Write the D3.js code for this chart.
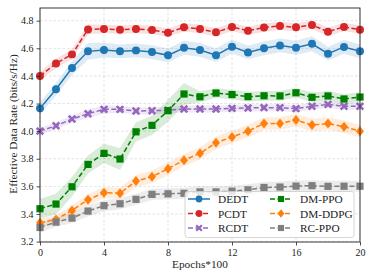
<!DOCTYPE html>
<html><head><meta charset="utf-8">
<script src="https://cdn.jsdelivr.net/npm/d3@7"></script>
<style>body{margin:0;background:#fff}svg{display:block}</style>
</head><body>
<svg id="c" width="374" height="279"></svg>
<script>
const epochs = d3.range(0, 21);
const dedt = [4.165,4.303,4.457,4.578,4.588,4.578,4.585,4.573,4.549,4.604,4.588,4.550,4.612,4.570,4.600,4.621,4.604,4.633,4.561,4.610,4.578];
const pcdt = [4.400,4.490,4.556,4.737,4.740,4.735,4.740,4.733,4.713,4.752,4.740,4.716,4.755,4.727,4.750,4.762,4.752,4.769,4.720,4.755,4.735];
const rcdt = [4.000,4.039,4.088,4.126,4.158,4.158,4.146,4.148,4.152,4.160,4.160,4.160,4.165,4.168,4.170,4.170,4.163,4.180,4.194,4.180,4.180];
const dmppo = [3.438,3.472,3.597,3.759,3.839,3.798,3.995,4.042,4.148,4.269,4.249,4.276,4.265,4.250,4.256,4.255,4.278,4.245,4.255,4.233,4.247];
const dmddpg = [3.336,3.360,3.426,3.503,3.554,3.550,3.638,3.670,3.728,3.790,3.839,3.916,3.957,4.000,4.056,4.056,4.080,4.044,4.055,4.032,4.000];
const rcppo = [3.302,3.341,3.370,3.421,3.460,3.474,3.506,3.542,3.546,3.550,3.560,3.560,3.565,3.575,3.592,3.595,3.602,3.605,3.600,3.601,3.601];
const sdDedt = [0.045,0.045,0.05,0.06,0.055,0.05,0.05,0.05,0.05,0.05,0.05,0.05,0.05,0.05,0.05,0.05,0.05,0.055,0.05,0.05,0.05];
const sdPcdt = [0.03,0.035,0.035,0.035,0.03,0.03,0.03,0.03,0.03,0.03,0.03,0.03,0.03,0.03,0.03,0.03,0.03,0.03,0.03,0.03,0.03];
const sdRcdt = [0.025,0.025,0.025,0.03,0.03,0.025,0.025,0.025,0.025,0.025,0.025,0.025,0.025,0.025,0.025,0.025,0.025,0.025,0.025,0.025,0.025];
const sdDmppo = [0.07,0.075,0.07,0.065,0.07,0.08,0.07,0.07,0.08,0.08,0.04,0.035,0.035,0.035,0.035,0.035,0.035,0.035,0.035,0.035,0.035];
const sdDmddpg = [0.03,0.03,0.035,0.04,0.04,0.04,0.045,0.045,0.045,0.045,0.045,0.045,0.045,0.045,0.045,0.045,0.045,0.045,0.045,0.045,0.045];
const sdRcppo = [0.035,0.035,0.035,0.04,0.04,0.04,0.04,0.04,0.04,0.04,0.04,0.04,0.04,0.04,0.04,0.04,0.04,0.04,0.04,0.04,0.04];
const xTicks = [0,4,8,12,16,20];
const yTicks = [3.2,3.4,3.6,3.8,4.0,4.2,4.4,4.6,4.8];

const series = [
  {name:"DEDT", v:dedt, sd:sdDedt, color:"#1f77b4", dash:null, sym:"circle"},
  {name:"PCDT", v:pcdt, sd:sdPcdt, color:"#d62728", dash:"5,2.5", sym:"circle"},
  {name:"RCDT", v:rcdt, sd:sdRcdt, color:"#9467bd", dash:"5,2.5", sym:"x"},
  {name:"DM-PPO", v:dmppo, sd:sdDmppo, color:"#008000", dash:"5,2.5", sym:"square"},
  {name:"DM-DDPG", v:dmddpg, sd:sdDmddpg, color:"#ff7f0e", dash:"5,2.5", sym:"diamond"},
  {name:"RC-PPO", v:rcppo, sd:sdRcppo, color:"#7f7f7f", dash:"5,2.5", sym:"square"}
];

const L=40, R=360, T=8, B=242;
const svg = d3.select("#c");
const x = d3.scaleLinear().domain([0,20]).range([L,R]);
const y = d3.scaleLinear().domain([3.197,4.892]).range([B,T]);
const font = "'Liberation Serif','DejaVu Serif',serif";
const ink = "#222";

// grid
const g = svg.append("g");
g.selectAll(".gx").data(xTicks).join("line").attr("x1",d=>x(d)).attr("x2",d=>x(d)).attr("y1",T).attr("y2",B)
 .attr("stroke","#b0b0b0").attr("stroke-width",0.6).attr("stroke-dasharray","2.5,2").attr("opacity",0.6);
g.selectAll(".gy").data(yTicks).join("line").attr("y1",d=>y(d)).attr("y2",d=>y(d)).attr("x1",L).attr("x2",R)
 .attr("stroke","#b0b0b0").attr("stroke-width",0.6).attr("stroke-dasharray","2.5,2").attr("opacity",0.6);

svg.append("clipPath").attr("id","pc").append("rect").attr("x",L).attr("y",T).attr("width",R-L).attr("height",B-T);
const plot = svg.append("g").attr("clip-path","url(#pc)");

const area = d3.area().x((d,i)=>x(epochs[i])).y0(d=>y(d[0])).y1(d=>y(d[1]));
const line = d3.line().x((d,i)=>x(epochs[i])).y(d=>y(d));

function symPath(sym, k){
  k = k || 1;
  if(sym==="circle") return d3.symbol(d3.symbolCircle, 50*k*k)();
  if(sym==="square") return d3.symbol(d3.symbolSquare, 52*k*k)();
  if(sym==="diamond") return `M0,${-5*k}L${4*k},0L0,${5*k}L${-4*k},0Z`;
  if(sym==="x") {
    const p=[[-4.2,-2.4],[-2.4,-4.2],[0,-1.8],[2.4,-4.2],[4.2,-2.4],[1.8,0],[4.2,2.4],[2.4,4.2],[0,1.8],[-2.4,4.2],[-4.2,2.4],[-1.8,0]];
    return "M"+p.map(q=>(q[0]*k)+","+(q[1]*k)).join("L")+"Z";
  }
}

series.forEach(s=>{
  plot.append("path").datum(s.v.map((v,i)=>[v-s.sd[i], v+s.sd[i]])).attr("d",area)
    .attr("fill",s.color).attr("opacity",0.15);
});
series.forEach(s=>{
  plot.append("path").datum(s.v).attr("d",line).attr("fill","none").attr("stroke",s.color)
    .attr("stroke-width",1.5).attr("stroke-dasharray",s.dash);
  svg.append("g").selectAll("path").data(s.v).join("path")
    .attr("transform",(d,i)=>`translate(${x(epochs[i])},${y(d)})`)
    .attr("d",symPath(s.sym)).attr("fill",s.color);
});

// axes
const ax = svg.append("g").attr("transform",`translate(0,${B})`).call(d3.axisBottom(x).tickValues(xTicks).tickSize(3.5).tickPadding(3).tickFormat(d3.format("d")));
const ay = svg.append("g").attr("transform",`translate(${L},0)`).call(d3.axisLeft(y).tickValues(yTicks).tickSize(3.5).tickPadding(3).tickFormat(d3.format(".1f")));
[ax,ay].forEach(a=>{
  a.select(".domain").remove();
  a.selectAll("text").attr("font-family",font).attr("font-size",10).attr("fill",ink);
  a.selectAll("line").attr("stroke",ink).attr("stroke-width",0.8);
});
svg.append("rect").attr("x",L).attr("y",T).attr("width",R-L).attr("height",B-T).attr("fill","none").attr("stroke",ink).attr("stroke-width",0.9);

svg.append("text").attr("x",200).attr("y",268).attr("text-anchor","middle").attr("font-family",font).attr("font-size",11.3).attr("fill",ink).text("Epochs*100");
svg.append("text").attr("transform","translate(17,124) rotate(-90)").attr("text-anchor","middle").attr("font-family",font).attr("font-size",11.3).attr("fill",ink).text("Effective Data Rate (bits/s/Hz)");

// legend
const lg = svg.append("g");
lg.append("rect").attr("x",185).attr("y",191.5).attr("width",169).attr("height",46).attr("rx",2.5)
  .attr("fill","#fff").attr("fill-opacity",0.8).attr("stroke","#ccc").attr("stroke-width",0.8);
series.forEach((s,i)=>{
  const col = Math.floor(i/3), row = i%3;
  const hx = col===0 ? 188 : 270, ty = 199 + row*14.5;
  lg.append("line").attr("x1",hx).attr("x2",hx+22).attr("y1",ty).attr("y2",ty).attr("stroke",s.color).attr("stroke-width",1.5).attr("stroke-dasharray",s.dash);
  lg.append("path").attr("transform",`translate(${hx+11},${ty})`).attr("d",symPath(s.sym,0.85)).attr("fill",s.color);
  lg.append("text").attr("x",col===0?218:300).attr("y",ty+4).attr("font-family",font).attr("font-size",11.3).attr("fill",ink).text(s.name);
});
</script>
</body></html>
